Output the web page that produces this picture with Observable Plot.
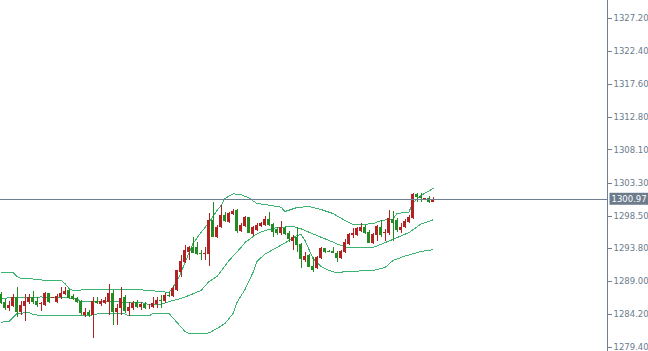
<!DOCTYPE html>
<html><head><meta charset="utf-8">
<style>html,body{margin:0;padding:0;background:#fff;overflow:hidden}</style>
<script src="https://cdn.jsdelivr.net/npm/d3@7"></script>
<script src="https://cdn.jsdelivr.net/npm/@observablehq/plot@0.6"></script>
</head><body><div id="chart"></div>
<script>
const opens = [1287.10,1285.98,1285.11,1285.36,1286.71,1284.53,1285.36,1285.89,1286.71,1286.13,1285.60,1285.50,1287.20,1286.59,1285.98,1286.62,1287.10,1287.68,1286.81,1286.56,1286.13,1284.05,1284.53,1284.05,1286.13,1285.65,1285.75,1285.98,1287.20,1284.53,1285.02,1286.71,1284.67,1285.11,1285.98,1285.17,1285.65,1285.17,1285.26,1285.65,1286.23,1286.13,1286.96,1286.85,1287.68,1290.34,1291.79,1293.25,1293.97,1293.89,1293.10,1292.91,1292.91,1297.85,1295.34,1296.88,1298.58,1297.61,1298.72,1299.31,1296.30,1296.98,1298.25,1295.82,1296.40,1296.98,1297.13,1297.95,1297.27,1296.50,1296.01,1296.65,1296.01,1294.85,1295.34,1294.37,1292.04,1292.77,1291.17,1290.83,1292.29,1293.74,1293.35,1293.39,1293.10,1292.29,1293.25,1294.41,1295.67,1295.67,1296.30,1296.88,1296.15,1294.47,1295.67,1296.88,1295.92,1295.92,1297.95,1297.85,1296.40,1296.79,1297.61,1298.10,1301.63,1301.34,1300.95,1301.05,1300.51];
const highs = [1287.39,1286.37,1286.08,1287.06,1288.07,1286.13,1287.10,1287.10,1287.54,1286.62,1285.98,1287.44,1287.29,1286.70,1287.06,1288.07,1288.07,1287.78,1287.10,1286.71,1286.23,1285.02,1284.78,1286.71,1286.62,1286.33,1286.71,1288.55,1287.68,1285.65,1288.16,1286.96,1285.98,1286.13,1286.23,1285.98,1285.98,1285.65,1286.62,1286.62,1286.96,1287.20,1287.44,1288.26,1290.59,1292.77,1294.22,1294.08,1295.43,1294.70,1293.49,1293.89,1298.83,1300.51,1297.13,1300.03,1299.06,1299.06,1299.41,1299.41,1297.37,1298.43,1298.33,1296.98,1297.37,1297.61,1298.43,1298.97,1297.46,1296.88,1297.75,1296.88,1296.30,1295.67,1296.79,1294.47,1293.25,1292.91,1292.52,1292.62,1293.89,1293.83,1293.49,1293.97,1293.35,1293.49,1295.05,1295.92,1296.65,1296.88,1297.37,1297.13,1296.40,1296.01,1297.13,1297.85,1296.50,1299.31,1299.16,1298.10,1297.37,1297.95,1298.58,1301.82,1301.82,1301.82,1301.10,1301.34,1301.15];
const lows = [1285.65,1284.78,1284.63,1285.26,1283.80,1284.05,1283.22,1285.65,1285.65,1285.26,1284.67,1285.36,1285.84,1286.45,1285.84,1286.33,1286.96,1286.33,1286.23,1285.75,1284.05,1283.72,1283.80,1280.66,1285.60,1285.36,1285.65,1284.05,1282.60,1282.60,1284.05,1284.30,1283.90,1284.78,1285.02,1284.78,1284.96,1284.92,1285.02,1285.02,1285.02,1285.84,1286.62,1286.71,1287.58,1289.53,1291.65,1292.04,1293.00,1292.77,1292.04,1292.04,1291.17,1295.34,1295.19,1296.65,1297.61,1297.46,1298.58,1295.92,1296.15,1296.88,1295.92,1295.53,1296.30,1296.79,1296.98,1296.98,1295.34,1295.67,1295.67,1295.67,1294.70,1293.49,1293.25,1290.83,1291.79,1290.98,1290.34,1290.69,1292.14,1293.10,1293.16,1293.01,1291.79,1292.14,1293.10,1294.22,1295.19,1295.53,1296.11,1295.82,1294.47,1294.37,1294.85,1295.43,1294.85,1295.67,1294.85,1296.15,1295.92,1296.65,1297.46,1297.95,1300.51,1300.51,1300.85,1300.28,1300.42];
const closes = [1285.84,1285.02,1285.50,1286.71,1284.53,1285.50,1286.13,1286.71,1285.98,1285.50,1285.75,1287.29,1285.98,1286.59,1286.81,1287.29,1287.58,1286.48,1286.37,1285.98,1284.30,1284.53,1284.05,1286.13,1285.75,1286.13,1286.23,1287.20,1284.53,1285.11,1286.48,1284.67,1285.26,1285.84,1285.26,1285.65,1285.11,1285.26,1285.75,1286.23,1286.08,1286.96,1286.81,1287.93,1290.54,1291.94,1293.49,1293.97,1293.06,1292.91,1292.91,1293.10,1297.85,1295.38,1296.88,1298.58,1297.75,1298.83,1299.16,1296.30,1297.13,1298.25,1296.01,1296.79,1297.13,1297.37,1297.95,1297.13,1296.15,1296.01,1296.88,1295.82,1295.05,1295.34,1294.22,1292.14,1292.62,1291.07,1290.59,1292.43,1293.74,1293.25,1293.25,1293.10,1292.29,1293.39,1294.70,1295.82,1295.92,1296.65,1296.88,1296.01,1294.55,1295.78,1296.98,1295.67,1296.15,1298.10,1297.46,1296.40,1296.88,1297.75,1298.25,1301.63,1301.24,1301.01,1300.95,1300.51,1300.97];

// Bollinger bands (candle index, price)
const upperIdx = [0,3,4,5,8,10,15,16,17,18,22,27,34,37,40,42,44,45,46,48,50,52,54,55,56,58,60,62,64,66,70,71,74,77,80,83,86,88,93,95,98,99,102,103,105,108];
const upperVal = [1290.34,1290.30,1289.72,1289.43,1289.35,1289.21,1289.14,1288.70,1287.97,1287.68,1287.83,1287.83,1287.83,1287.68,1287.54,1287.39,1288.99,1290.30,1291.75,1294.51,1296.11,1297.56,1299.31,1300.03,1301.05,1301.73,1301.63,1301.12,1300.32,1300.18,1299.79,1299.16,1299.74,1299.89,1299.45,1298.87,1297.85,1297.27,1297.37,1297.85,1298.07,1298.87,1299.09,1300.47,1301.48,1302.50];
const middleIdx = [0,3,10,16,19,20,30,35,37,40,42,45,47,50,52,54,57,60,61,64,66,69,73,75,76,79,82,85,87,93,97,102,105,108];
const middleVal = [1286.52,1286.67,1286.74,1286.67,1286.45,1286.08,1286.01,1285.94,1285.65,1285.65,1286.08,1286.52,1286.96,1287.68,1288.99,1289.72,1292.04,1293.93,1294.66,1295.92,1296.40,1296.84,1296.98,1296.65,1296.40,1295.67,1294.95,1294.22,1293.89,1293.93,1294.87,1296.11,1297.34,1297.95];
const lowerIdx = [0,2,4,7,8,10,22,24,31,32,37,38,42,44,46,47,52,54,56,58,59,61,63,64,66,69,72,74,75,76,78,80,82,84,86,93,96,98,101,105,108];
const lowerVal = [1283.08,1283.18,1284.34,1284.49,1284.19,1284.05,1284.05,1284.27,1284.27,1283.98,1283.98,1284.34,1284.34,1283.03,1281.72,1281.43,1281.51,1282.16,1282.89,1284.34,1285.94,1287.83,1290.30,1291.90,1292.99,1293.93,1294.95,1295.67,1295.82,1294.95,1292.33,1291.17,1290.59,1290.22,1290.44,1290.59,1291.02,1292.04,1292.69,1293.35,1293.60];

const tickValues = [1327.20,1322.40,1317.60,1312.80,1308.10,1303.30,1298.50,1293.80,1289.00,1284.20,1279.40];
const currentPrice = 1300.97;

const candles = opens.map((o, i) => ({i, o, h: highs[i], l: lows[i], c: closes[i]}));
const band = (idx, val) => idx.map((i, k) => ({i, v: val[k]}));
const upper = band(upperIdx, upperVal), middle = band(middleIdx, middleVal), lower = band(lowerIdx, lowerVal);

const UP = "#b22222", DOWN = "#228b22", BAND = "#3cb371", AXIS = "#6f7f90";
const col = d => d.c >= d.o ? UP : DOWN;
const minBody = 0.08;
const bodyLo = d => Math.abs(d.c - d.o) < minBody ? (d.c + d.o) / 2 - minBody / 2 : Math.min(d.o, d.c);
const bodyHi = d => Math.abs(d.c - d.o) < minBody ? (d.c + d.o) / 2 + minBody / 2 : Math.max(d.o, d.c);

const xDomain = [-0.125, 151.625];
const yDomain = [1278.82, 1329.82];

const chart = Plot.plot({
  width: 648, height: 351,
  marginLeft: 0, marginRight: 41, marginTop: 0, marginBottom: 0,
  style: {fontFamily: "'DejaVu Sans', sans-serif", fontSize: "8.5px", color: "#6a7b8c", background: "#fff"},
  x: {domain: xDomain, axis: null},
  y: {domain: yDomain, axis: null},
  marks: [
    Plot.line(upper, {x: "i", y: "v", stroke: BAND, strokeWidth: 1, shapeRendering: "crispEdges"}),
    Plot.line(middle, {x: "i", y: "v", stroke: BAND, strokeWidth: 1, shapeRendering: "crispEdges"}),
    Plot.line(lower, {x: "i", y: "v", stroke: BAND, strokeWidth: 1, shapeRendering: "crispEdges"}),
    Plot.ruleX(candles, {x: "i", y1: "l", y2: "h", stroke: col, strokeWidth: 1, shapeRendering: "crispEdges"}),
    Plot.rect(candles, {x1: d => d.i - 0.375, x2: d => d.i + 0.375, y1: bodyLo, y2: bodyHi, fill: col, shapeRendering: "crispEdges"}),
    Plot.ruleY([currentPrice], {stroke: AXIS, strokeWidth: 1, shapeRendering: "crispEdges"}),
    Plot.ruleX([xDomain[1]], {stroke: AXIS, strokeWidth: 1, shapeRendering: "crispEdges"}),
    Plot.axisY(tickValues, {anchor: "right", tickSize: 4, tickPadding: 2, tickFormat: d => d.toFixed(2), stroke: AXIS, fill: "#6a7b8c", shapeRendering: "crispEdges"}),
    Plot.text([currentPrice], {y: d => d, frameAnchor: "right", dx: 4, textAnchor: "start", text: d => d.toFixed(2), fill: "white", className: "price-label"})
  ]
});
document.getElementById("chart").appendChild(chart);

// background box behind the current-price label (same transform as the text)
const t = chart.querySelector("g.price-label text");
if (t) {
  const bb = t.getBBox();
  const r = document.createElementNS("http://www.w3.org/2000/svg", "rect");
  const tr = t.getAttribute("transform");
  if (tr) r.setAttribute("transform", tr);
  r.setAttribute("x", bb.x - 2);
  r.setAttribute("y", bb.y - 1);
  r.setAttribute("width", bb.width + 8);
  r.setAttribute("height", bb.height + 2);
  r.setAttribute("fill", "#6d7c8c");
  t.parentNode.insertBefore(r, t);
}
</script></body></html>
